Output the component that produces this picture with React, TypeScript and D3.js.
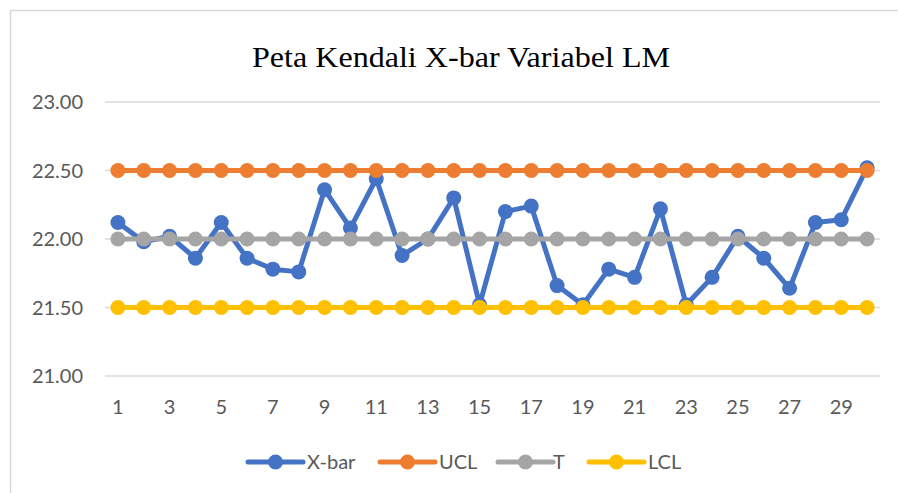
import React from "react";
import * as d3 from "d3";

const categories: number[] = Array.from({ length: 30 }, (_, i) => i + 1);
const xbar: number[] = [
  22.12, 21.98, 22.02, 21.86, 22.12, 21.86, 21.78, 21.76, 22.36, 22.08,
  22.44, 21.88, 22.0, 22.3, 21.52, 22.2, 22.24, 21.66, 21.52, 21.78,
  21.72, 22.22, 21.52, 21.72, 22.02, 21.86, 21.64, 22.12, 22.14, 22.52,
];
const ucl: number[] = categories.map(() => 22.5);
const tLine: number[] = categories.map(() => 22.0);
const lcl: number[] = categories.map(() => 21.5);
const yTicks: number[] = [21.0, 21.5, 22.0, 22.5, 23.0];
const xTickLabels: number[] = [1, 3, 5, 7, 9, 11, 13, 15, 17, 19, 21, 23, 25, 27, 29];
const seriesNames: string[] = ["X-bar", "UCL", "T", "LCL"];
const seriesColors: string[] = ["#4472C4", "#ED7D31", "#A5A5A5", "#FFC000"];

const W = 898;
const H = 493;
const plotLeft = 105;
const plotRight = 880;
const plotTop = 102;
const plotBottom = 376;

export default function App() {
  const x = d3
    .scaleBand<number>()
    .domain(categories)
    .range([plotLeft, plotRight]);
  const cx = (c: number) => (x(c) as number) + x.bandwidth() / 2;
  const y = d3.scaleLinear().domain([21, 23]).range([plotBottom, plotTop]);
  const series = [xbar, ucl, tLine, lcl];
  const line = d3
    .line<number>()
    .x((_, i) => cx(categories[i]))
    .y((d) => y(d));

  const legendItems = [
    { lx: 248, tx: 307 },
    { lx: 380, tx: 439 },
    { lx: 498, tx: 553 },
    { lx: 589, tx: 648 },
  ];
  const legendY = 462;

  return (
    <svg
      width={W}
      height={H}
      style={{ position: "fixed", left: 0, top: 0, background: "#fff" }}
      fontFamily="Lato, 'Open Sans', sans-serif"
    >
      <rect x={0} y={0} width={W} height={H} fill="#fff" />
      <path
        d={`M10.5,${H} L10.5,10.5 L${W},10.5`}
        fill="none"
        stroke="#d9d9d9"
        strokeWidth={1.5}
      />
      <text
        x={252}
        y={67}
        fontFamily="'Liberation Serif', 'Times New Roman', serif"
        fontSize={29}
        textLength={418}
        lengthAdjust="spacingAndGlyphs"
        fill="#000"
      >
        Peta Kendali X-bar Variabel LM
      </text>
      {yTicks.map((t) => (
        <g key={t}>
          <line
            x1={plotLeft}
            x2={plotRight}
            y1={y(t)}
            y2={y(t)}
            stroke="#d9d9d9"
            strokeWidth={1.3}
          />
          <text
            x={83}
            y={y(t)}
            dy="0.35em"
            textAnchor="end"
            fontSize={20}
            fill="#595959"
          >
            {t.toFixed(2)}
          </text>
        </g>
      ))}
      {xTickLabels.map((c) => (
        <text
          key={c}
          x={cx(c)}
          y={407}
          dy="0.35em"
          textAnchor="middle"
          fontSize={20}
          fill="#595959"
        >
          {c}
        </text>
      ))}
      {series.map((s, si) => (
        <g key={si}>
          <path
            d={line(s) as string}
            fill="none"
            stroke={seriesColors[si]}
            strokeWidth={5}
            strokeLinejoin="round"
          />
          {s.map((v, i) => (
            <circle
              key={i}
              cx={cx(categories[i])}
              cy={y(v)}
              r={7.5}
              fill={seriesColors[si]}
            />
          ))}
        </g>
      ))}
      {seriesNames.map((n, i) => (
        <g key={n}>
          <line
            x1={legendItems[i].lx}
            x2={legendItems[i].lx + 55}
            y1={legendY}
            y2={legendY}
            stroke={seriesColors[i]}
            strokeWidth={5}
            strokeLinecap="round"
          />
          <circle
            cx={legendItems[i].lx + 27.5}
            cy={legendY}
            r={7.5}
            fill={seriesColors[i]}
          />
          <text
            x={legendItems[i].tx}
            y={legendY}
            dy="0.35em"
            fontSize={20}
            fill="#595959"
          >
            {n}
          </text>
        </g>
      ))}
    </svg>
  );
}
